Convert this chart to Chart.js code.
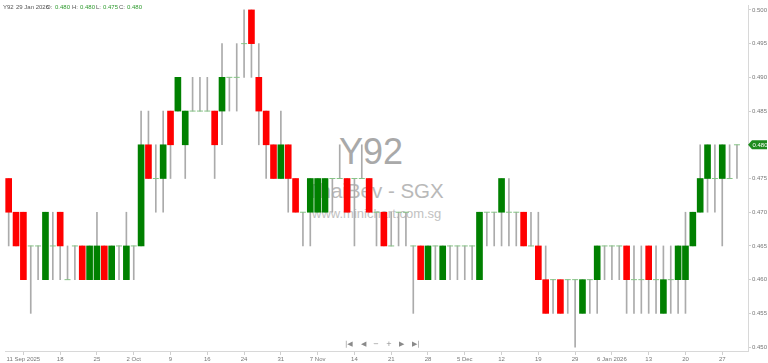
<!DOCTYPE html>
<html>
<head>
<meta charset="utf-8">
<script src="https://cdn.jsdelivr.net/npm/chart.js@4.4.1/dist/chart.umd.min.js"></script>
<style>
  body { margin: 0; background: #fff; }
  #wrap { position: relative; width: 768px; height: 363px; overflow: hidden; font-family: "Liberation Sans", Arial, sans-serif; }
  #wrap canvas { position: absolute; left: 0; top: 0; z-index: 2; }
  .wm { position: absolute; z-index: 1; white-space: nowrap; color: #b9b9b9; }
  .hd { position: absolute; z-index: 3; top: 4px; font-size: 6px; line-height: 7px; color: #555; white-space: nowrap; }
  .hd.v { color: #2e9a2e; }
  .nav { position: absolute; z-index: 3; top: 340px; font-size: 7px; line-height: 9px; color: #8a8a8a; font-family: "DejaVu Sans", sans-serif; }
</style>
</head>
<body>
<div id="wrap">
  <div class="wm" style="left:339px; top:131px; font-size:36px; color:#a9a9a9;">Y92</div>
  <div class="wm" style="left:307px; top:179px; font-size:20.5px;">ThaiBev - SGX</div>
  <div class="wm" style="left:312px; top:206px; font-size:13px; color:#c2c2c2;">www.minichart.com.sg</div>

  <span class="hd" style="left:3px;">Y92</span>
  <span class="hd" style="left:16px;">29 Jan 2026</span>
  <span class="hd" style="left:46px;">O:</span>
  <span class="hd v" style="left:55px;">0.480</span>
  <span class="hd" style="left:72px;">H:</span>
  <span class="hd v" style="left:80px;">0.480</span>
  <span class="hd" style="left:96px;">L:</span>
  <span class="hd v" style="left:103px;">0.475</span>
  <span class="hd" style="left:119px;">C:</span>
  <span class="hd v" style="left:127px;">0.480</span>

  <span class="nav" style="left:345px;">|◀</span>
  <span class="nav" style="left:361px;">◀</span>
  <span class="nav" style="left:373px;">−</span>
  <span class="nav" style="left:386px;">+</span>
  <span class="nav" style="left:399px;">▶</span>
  <span class="nav" style="left:412px;">▶|</span>

  <canvas id="chart" width="768" height="363"></canvas>
</div>
<script>
// Y92 daily bars, 9 Sep 2025 .. 29 Jan 2026
const opens = [
  0.475, 0.470, 0.470, 0.465, 0.465, 0.460, 0.465, 0.470, 0.460, 0.465,
  0.465, 0.460, 0.460, 0.465, 0.460, 0.465, 0.460, 0.465, 0.465, 0.480,
  0.475, 0.475, 0.485, 0.485, 0.480, 0.485, 0.485, 0.485, 0.485, 0.485,
  0.490, 0.490, 0.495, 0.500, 0.490, 0.485, 0.480, 0.475, 0.480, 0.475,
  0.470, 0.470, 0.470, 0.470, 0.475, 0.475, 0.475, 0.475, 0.475, 0.475,
  0.470, 0.470, 0.465, 0.470, 0.470, 0.465, 0.465, 0.460, 0.465, 0.460,
  0.465, 0.465, 0.465, 0.465, 0.460, 0.470, 0.470, 0.470, 0.470, 0.470,
  0.470, 0.465, 0.465, 0.460, 0.460, 0.460, 0.460, 0.460, 0.455, 0.460,
  0.460, 0.465, 0.465, 0.465, 0.465, 0.460, 0.460, 0.465, 0.460, 0.455,
  0.460, 0.460, 0.460, 0.465, 0.470, 0.475, 0.475, 0.475, 0.475, 0.480
];
const highs = [
  0.475, 0.470, 0.470, 0.465, 0.465, 0.470, 0.470, 0.470, 0.465, 0.465,
  0.465, 0.465, 0.470, 0.465, 0.465, 0.465, 0.470, 0.465, 0.485, 0.485,
  0.480, 0.485, 0.485, 0.490, 0.485, 0.490, 0.490, 0.490, 0.485, 0.495,
  0.490, 0.495, 0.500, 0.500, 0.495, 0.485, 0.480, 0.485, 0.480, 0.475,
  0.470, 0.475, 0.475, 0.475, 0.475, 0.480, 0.475, 0.475, 0.480, 0.475,
  0.470, 0.470, 0.470, 0.470, 0.470, 0.465, 0.465, 0.465, 0.465, 0.465,
  0.465, 0.465, 0.465, 0.465, 0.470, 0.470, 0.470, 0.475, 0.475, 0.470,
  0.470, 0.470, 0.470, 0.465, 0.460, 0.460, 0.460, 0.460, 0.460, 0.460,
  0.465, 0.465, 0.465, 0.465, 0.465, 0.465, 0.465, 0.465, 0.465, 0.465,
  0.465, 0.465, 0.470, 0.470, 0.480, 0.480, 0.480, 0.480, 0.480, 0.480
];
const lows = [
  0.465, 0.465, 0.460, 0.455, 0.460, 0.460, 0.460, 0.460, 0.460, 0.460,
  0.460, 0.460, 0.460, 0.460, 0.460, 0.460, 0.460, 0.460, 0.465, 0.475,
  0.470, 0.470, 0.475, 0.485, 0.475, 0.485, 0.485, 0.485, 0.475, 0.480,
  0.485, 0.485, 0.490, 0.490, 0.480, 0.475, 0.475, 0.475, 0.470, 0.470,
  0.465, 0.465, 0.470, 0.470, 0.470, 0.475, 0.470, 0.465, 0.475, 0.470,
  0.465, 0.465, 0.465, 0.465, 0.465, 0.455, 0.460, 0.460, 0.460, 0.460,
  0.460, 0.460, 0.460, 0.460, 0.460, 0.465, 0.465, 0.465, 0.465, 0.465,
  0.465, 0.465, 0.460, 0.455, 0.455, 0.455, 0.455, 0.450, 0.455, 0.455,
  0.455, 0.460, 0.460, 0.460, 0.455, 0.455, 0.455, 0.455, 0.455, 0.455,
  0.455, 0.455, 0.455, 0.465, 0.470, 0.470, 0.470, 0.465, 0.475, 0.475
];
const closes = [
  0.470, 0.465, 0.460, 0.465, 0.465, 0.470, 0.465, 0.465, 0.460, 0.465,
  0.460, 0.465, 0.465, 0.460, 0.465, 0.465, 0.465, 0.465, 0.480, 0.475,
  0.475, 0.480, 0.480, 0.490, 0.485, 0.485, 0.485, 0.485, 0.480, 0.490,
  0.490, 0.490, 0.495, 0.495, 0.485, 0.480, 0.475, 0.480, 0.475, 0.470,
  0.470, 0.475, 0.475, 0.475, 0.475, 0.475, 0.470, 0.475, 0.475, 0.470,
  0.470, 0.465, 0.465, 0.470, 0.470, 0.465, 0.460, 0.465, 0.465, 0.465,
  0.465, 0.465, 0.465, 0.465, 0.470, 0.470, 0.470, 0.475, 0.470, 0.470,
  0.465, 0.465, 0.460, 0.455, 0.460, 0.455, 0.460, 0.460, 0.460, 0.460,
  0.465, 0.465, 0.465, 0.465, 0.460, 0.460, 0.460, 0.460, 0.460, 0.460,
  0.460, 0.465, 0.465, 0.470, 0.475, 0.480, 0.475, 0.480, 0.475, 0.480
];

// date labels shown under the bars (every 5th trading day)
const tickIdx = [2, 7, 12, 17, 22, 27, 32, 37, 42, 47, 52, 57, 62, 67, 72, 77, 82, 87, 92, 97];
const tickLabels = ['11 Sep 2025', '18', '25', '2 Oct', '9', '16', '24', '31', '7 Nov', '14',
                    '21', '28', '5 Dec', '12', '19', '29', '6 Jan 2026', '13', '20', '27'];
const yTicks = [0.450, 0.455, 0.460, 0.465, 0.470, 0.475, 0.480, 0.485, 0.490, 0.495, 0.500];

const UP = '#008000', DOWN = '#ff0000';

const bodies = [], bodyColors = [], wicks = [], dojis = [];
opens.forEach((o, i) => {
    const c = closes[i];
    wicks.push({ x: i, y: [lows[i], highs[i]] });
    if (o === c) {
        bodies.push({ x: i, y: null });
        dojis.push({ x: i, y: c });
    } else {
        bodies.push({ x: i, y: [Math.min(o, c), Math.max(o, c)] });
    }
    bodyColors.push(c > o ? UP : DOWN);
});

const priceTag = {
    id: 'priceTag',
    afterDraw(chart) {
        const ctx = chart.ctx;
        const last = closes[closes.length - 1];
        const y = chart.scales.y.getPixelForValue(last);
        const x = chart.chartArea.right;
        ctx.save();
        ctx.fillStyle = '#1f8c1f';
        ctx.beginPath();
        ctx.moveTo(x, y);
        ctx.lineTo(x + 4, y - 4.5);
        ctx.lineTo(x + 19, y - 4.5);
        ctx.lineTo(x + 19, y + 4.5);
        ctx.lineTo(x + 4, y + 4.5);
        ctx.closePath();
        ctx.fill();
        ctx.fillStyle = '#ffffff';
        ctx.font = '6px "Liberation Sans", Arial, sans-serif';
        ctx.textBaseline = 'middle';
        ctx.fillText(last.toFixed(3), x + 4.5, y + 0.5);
        ctx.restore();
    }
};

const tickFont = { family: '"Liberation Sans", Arial, sans-serif', size: 6 };

new Chart(document.getElementById('chart').getContext('2d'), {
    type: 'bar',
    data: {
        datasets: [
            {
                type: 'line',
                label: 'doji',
                data: dojis,
                showLine: false,
                pointStyle: 'line',
                pointRadius: 3,
                borderColor: '#86c486',
                borderWidth: 1,
                order: 0
            },
            {
                label: 'body',
                data: bodies,
                backgroundColor: bodyColors,
                borderWidth: 0,
                barThickness: 6,
                grouped: false,
                order: 1
            },
            {
                label: 'wick',
                data: wicks,
                backgroundColor: '#ababab',
                borderWidth: 0,
                barThickness: 1,
                grouped: false,
                order: 2
            }
        ]
    },
    options: {
        responsive: false,
        animation: false,
        layout: { padding: 0 },
        plugins: {
            legend: { display: false },
            tooltip: { enabled: false }
        },
        scales: {
            x: {
                type: 'linear',
                offset: false,
                min: -0.5,
                max: 100.5,
                afterBuildTicks: axis => { axis.ticks = tickIdx.map(v => ({ value: v })); },
                afterFit: axis => {
                    axis.height = 12;
                    axis.paddingLeft = 0;
                    axis.paddingRight = 0;
                },
                ticks: {
                    autoSkip: false,
                    maxRotation: 0,
                    padding: 1,
                    color: '#777',
                    font: tickFont,
                    callback: value => tickLabels[tickIdx.indexOf(value)]
                },
                grid: { offset: false, drawOnChartArea: false, tickLength: 4, color: '#cfcfcf' },
                border: { color: '#d8d8d8' }
            },
            y: {
                position: 'right',
                min: 0.44942,
                max: 0.50073,
                afterBuildTicks: axis => { axis.ticks = yTicks.map(v => ({ value: v })); },
                afterFit: axis => {
                    axis.width = 20;
                    axis.paddingTop = 0;
                    axis.paddingBottom = 0;
                },
                ticks: {
                    padding: 1,
                    color: '#777',
                    font: tickFont,
                    callback: value => value.toFixed(3)
                },
                grid: { drawOnChartArea: false, tickLength: 3, color: '#cfcfcf' },
                border: { color: '#d8d8d8' }
            }
        }
    },
    plugins: [priceTag]
});
</script>
</body>
</html>
